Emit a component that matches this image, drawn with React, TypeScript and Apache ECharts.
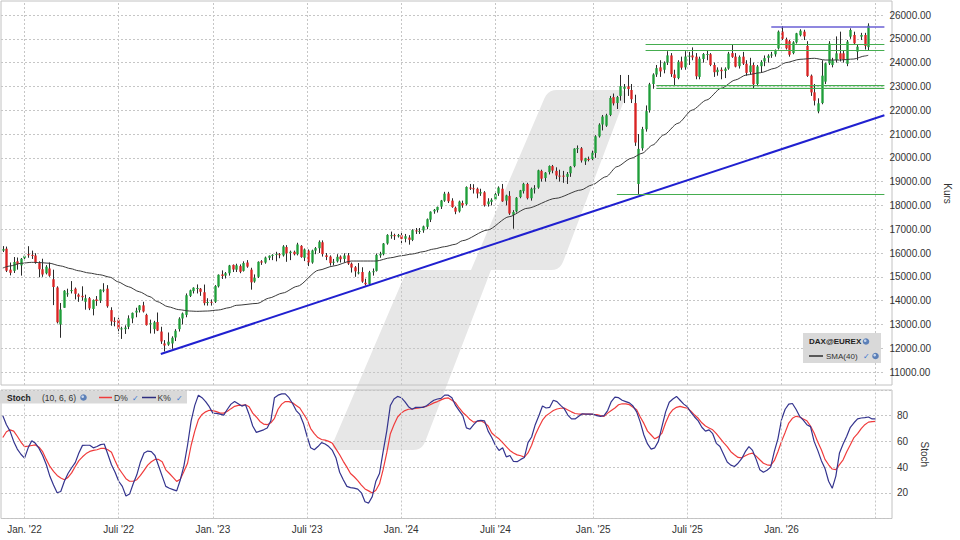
import React, { useEffect, useRef } from "react";
import * as echarts from "echarts";

// ---------------- data (weekly, week 0 = 2021-11-15) ----------------
const startDate = "2021-11-15";
const totalWeeks = 246; // 242 candles + 4 empty weeks to the right edge

const opens = [
16100,16180,15300,15250,15650,15480,15780,15950,15920,15900,15580,15320,15150,15350,14900,14550,13000,13700,14300,14400,
14500,14250,14200,13950,14100,13650,14050,14000,14430,14500,13600,13150,13200,12800,12800,12900,13250,13500,13600,13800,
13400,13000,12800,13100,12700,12200,12150,12200,12450,12800,13250,13400,14200,14400,14500,14500,14350,13900,13950,13950,
14600,15100,15050,15150,15500,15300,15450,15250,15600,15300,14800,15000,15650,15600,15800,15900,15950,15950,15900,16250,
16000,16050,15950,16300,15800,16100,15600,16100,16200,16450,15900,15850,15600,15650,15850,15750,15900,15550,15400,15150,
15200,14750,14700,15200,15250,15900,15950,16400,16740,16750,16700,16750,16600,16650,16550,16950,16900,16950,17100,17400,
17750,17800,17950,18200,18500,18200,17900,17750,18100,18050,18750,18720,18700,18500,18550,18050,18150,18250,18500,18700,
18200,18400,17600,17750,18350,18600,18900,18300,18680,18750,19450,19150,19400,19650,19450,19250,19250,19200,19350,19650,
20380,20400,19850,19950,19950,20200,20900,21400,21350,21800,22550,22300,22600,22900,23000,22850,22300,18900,20400,21200,
22000,23100,23500,23800,23700,24000,24300,23500,23350,24050,23800,24250,24300,24250,23400,24150,24320,24350,23900,23600,
23700,23650,23750,24400,24250,23850,24250,23950,23600,23900,23100,23850,24050,24200,24300,24350,24600,25300,24980,24900,
24400,24850,25150,25300,24700,23450,22750,21950,22300,23200,23970,23900,24110,24390,24390,23950,25090,25160,24460,25090,
25160,24650];

const highs = [
16290,16270,15600,15830,15810,15790,15930,16285,16100,15990,15650,15760,15490,15600,15300,14600,13900,14440,14500,14820,
14550,14300,14600,14250,14150,14050,14190,14470,14730,14650,13720,13300,13280,12900,12960,13380,13500,13700,13810,13950,
13450,13200,13150,13500,12900,12340,12660,12500,12800,13300,13500,14300,14460,14560,14680,14530,14675,14100,14050,14650,
15100,15270,15200,15500,15520,15550,15520,15650,15700,15380,15100,15650,15700,15850,15900,15950,16050,16000,16330,16330,
16100,16100,16430,16330,16190,16150,16140,16250,16530,16530,16000,15900,15750,15950,15900,15990,16000,15600,15450,15580,
15400,14920,15250,15350,15980,16050,16420,16790,16900,16810,16800,16850,16800,16750,17000,17050,17050,17150,17450,17750,
17850,17950,18230,18570,18570,18300,17950,18200,18200,18800,18900,18890,18750,18700,18600,18300,18300,18550,18800,18900,
18450,18600,17800,18350,18650,18950,18950,18750,18850,19500,19500,19400,19680,19700,19600,19500,19450,19400,19650,20400,
20520,20450,20000,20050,20300,20950,21450,21800,21850,22600,22700,22600,23480,23100,23480,23100,22650,21000,21300,22200,
23150,23550,23900,24100,24050,24480,24400,23700,24100,24250,24480,24450,24640,24400,24250,24400,24500,24400,24000,23800,
23800,23800,24450,24770,24400,24300,24450,24100,24200,24000,23900,24100,24300,24350,24450,24550,25350,25530,25050,24950,
24900,25250,25400,25380,24900,23500,23100,22500,24100,24000,24900,24200,25100,25300,24500,24950,25440,25300,24750,25250,
25250,25650];

const lows = [
16040,15200,15060,15160,15300,15050,15720,15800,15750,15550,14980,15000,15100,15000,13810,13040,12439,13700,14160,14300,
14050,13950,14000,13620,13600,13380,13780,13900,14350,13700,12945,12920,12610,12390,12600,12800,13050,13300,13500,13500,
12950,12620,12610,12720,12180,11862,12100,11975,12300,12700,13000,13300,14150,14300,14300,14200,13800,13790,13790,13900,
14550,14910,14930,15050,15200,15200,15150,15220,15380,14460,14750,14950,15500,15550,15700,15700,15650,15780,15850,15630,
15700,15900,15900,15800,15660,15450,15550,15950,16000,15850,15700,15470,15480,15600,15600,15600,15500,15180,15000,15100,
14750,14630,14650,15050,15220,15800,15900,16350,16600,16550,16650,16400,16450,16350,16500,16800,16800,16850,17000,17300,
17650,17700,17850,18150,18100,17900,17630,17700,17900,18000,18650,18500,18300,18400,17950,17950,18000,18200,18400,18150,
18000,17600,17020,17700,18300,18500,18250,18200,18500,18700,19000,19000,19300,19350,19100,19000,18950,18900,19200,19600,
20200,19800,19700,19850,19900,20000,20850,21150,21300,21750,22200,22050,22400,22300,22600,22300,20500,18480,20300,21100,
21900,22900,23400,23400,23550,23900,23400,23050,23300,23700,23700,23900,24100,23300,23300,24000,24100,23850,23400,23450,
23300,23350,23700,24200,23800,23750,23900,23450,23500,22930,23050,23600,23850,24000,24200,24250,24550,24950,24550,24250,
24350,24800,25100,24950,23400,22600,22200,21870,22250,23100,23900,23800,24000,24050,24000,23850,25000,24750,24100,24950,
24550,24500];

const closes = [
16160,15257,15169,15623,15531,15756,15885,15948,15883,15603,15318,15100,15425,15042,14567,13094,13628,14413,14306,14446,
14284,14164,14143,14098,13674,14027,13982,14462,14460,13762,13126,13118,12813,12833,12865,13254,13484,13574,13795,13544,
12971,13050,13088,12741,12284,12114,12273,12438,12731,13243,13460,14225,14431,14541,14529,14371,13893,13941,13924,14610,
15086,15033,15150,15476,15307,15482,15210,15578,15428,14768,14957,15629,15598,15808,15882,15922,15961,15914,16275,15983,
16051,15950,16358,15830,16148,15603,16106,16204,16470,15952,15832,15574,15632,15840,15740,15893,15557,15387,15230,15187,
14798,14687,15189,15234,15919,15967,16397,16759,16751,16706,16752,16594,16704,16555,16961,16918,16927,17117,17419,17735,
17815,17937,18206,18492,18175,17930,17737,18161,18001,18773,18704,18693,18498,18557,18002,18164,18235,18475,18748,18171,
18418,17661,17722,18322,18633,18907,18302,18699,18720,19474,19121,19374,19657,19464,19255,19216,19211,19323,19626,20385,
20406,19885,19984,19906,20215,20903,21394,21732,21787,22514,22287,22551,23009,22987,22892,22461,20642,20374,21206,21961,
23087,23499,23767,23630,23997,24304,23516,23351,24033,23788,24255,24290,24218,23426,24163,24359,24363,23902,23597,23698,
23639,23739,24379,24241,23831,24240,23958,23569,23877,23091,23836,24028,24186,24288,24340,24490,25300,25000,24600,24330,
24850,25230,25340,25100,23440,22750,22400,22290,23450,23970,24800,24100,24390,24150,24110,24880,25370,24810,24670,25160,
24700,25550];

// SMA(40): [week, value]
const sma40: [number, number][] = [
[0,15370],[2,15453],[5,15566],[8,15608],[10,15600],[13,15570],[16,15460],[19,15340],[21,15256],[24,15160],[27,15087],
[30,14978],[32,14793],[35,14583],[38,14373],[41,14163],[43,13960],[46,13743],[49,13620],[52,13562],[54,13549],[57,13562],
[60,13604],[63,13701],[65,13801],[71,13884],[74,14100],[78,14320],[82,14600],[88,15280],[92,15450],[97,15663],[104,15663],
[108,15800],[111,15886],[114,15957],[117,16054],[120,16167],[123,16264],[126,16365],[128,16517],[135,16966],[141,17525],
[146,17878],[154,18297],[161,18647],[164,18857],[168,19206],[171,19626],[175,19978],[178,20188],[181,20537],[184,20958],
[188,21449],[192,22008],[196,22428],[200,22920],[204,23269],[207,23479],[211,23576],[215,23760],[218,23996],[222,24138],
[226,24181],[229,24109],[233,24109],[237,24151],[240,24277],[241,24307]];

// Stochastic (10, 6, 6), one value per week
const kPct = [
80,73,68,60,54,50,47,55,60.5,58.5,54.5,49,42,32.8,26,20,21,29,35,39.5,43.5,51,56.9,57,57,55,56,57.5,58,50,
41.8,36,29,25,17.5,19,27,34,44,51,52.5,52,49,41,33,25,23.5,22.5,21.5,30,41,57,76,88,96,94,91,87,82,81.8,
81.2,80.5,85,89,91,89.3,87.5,88.5,81,72,67,68,69,70.5,76,94,96,97,97,94,89.5,84,81,74,64,55,53.5,56,59,58,
56,53,47,36,30.2,25,24,23.6,22.9,20,13,12,17,29,35,52,68,88,93,95,94,91,87,85,86.5,86.5,86.5,87.8,90,92,
93,93.5,96,96,94,88,84,80,70.5,69.5,73,76,76.4,76,68,63,57,53,55,48,49,44.4,44.2,46,47.5,59,63.4,73,80,87.5,
86,86.5,92,91,88,85.5,80.5,77.5,77.5,79.5,81.5,81.3,81.3,81.3,80,79.5,80,84,91,94.5,94,92,91,90,87.5,83,75,65,
58,54,55,60,71.7,83,90.5,93,95,92,89,87,82.5,79,76,71,68,69,66,58.5,56,50,44,41.5,40.5,43,46.5,52,56,53,
46,38,36,37.5,40,52,62,77,85,89,89.5,85,79.5,76.5,73,71.5,60,53,45,39,29,23.5,33,51,58,64,71,74.5,77.5,78.2,
78.5,79,77.5,77.5];

const dPct = [
63,67.5,69,68,64,59.5,56,56.3,56.8,57.3,55.5,52,46,40.5,36.6,33.5,31.5,30.2,32,35.5,40.5,45,48,50.5,52.2,53,53.5,54.5,54.6,53.5,
51.5,45,39,35,31,29,29,30.2,33.5,37.5,41.5,44.2,46,46,44.2,37.9,35,32,28.9,30.5,36.5,43,57,68,77,81,83,84.2,84,83.2,
82,82,83.4,85.5,87.3,88,88,88.5,87,82,79,75.5,73.5,73,74.5,78,85,89,91,91,90,88,86,81.5,77,70,66,63,61.5,61,
60,58.5,54,49.6,44.5,40,35,32.5,29.5,26,23,21.5,19.8,22,27,38,51,66,73,79,82,84,85,85.2,85.6,86,86.7,87.3,88.5,90,
91,92.3,93.5,93.8,92,90,86,82.5,80,77,75,75.5,76,74.5,72,66.5,64,62,59,56,53,51,49.5,48.8,47.8,51,57,65,71,76.5,
80,82,84,85.2,85.8,86,84.5,83,81.7,81.3,81.3,81.3,81.3,81,80.8,80,79.5,82,84,86,88.5,89.3,89.2,88.6,86.5,84.7,79,74,
68,65,62,63.5,66.5,74.5,81,84.7,86.5,87.3,86.5,85.8,83.5,80.5,78,74.5,72,70.5,69,66,62.6,59,56,52,49.6,47.5,47.2,48.8,50.2,50.9,
48.5,45.7,43,41.8,41.3,45,52,60,67,74.3,78,79.5,79,77.5,76,72,66.5,59.5,53.5,46,41.8,38.5,38,42,45.7,52,57.4,63,66,70,
73,75,75.4,75.6];

// half-year grid weeks and their labels
const gridWeeks = [6, 32, 58, 84, 110, 136, 163, 189, 215, 241];
const gridLabels = ["Jan. '22", "Juli '22", "Jan. '23", "Juli '23", "Jan. '24", "Juli '24", "Jan. '25", "Juli '25", "Jan. '26", ""];

// drawn lines
const trendLine = { fromWeek: 44, fromValue: 11756, toWeek: 245.5, toValue: 21790 };
const greenLevels = [
  { fromWeek: 171, value: 18480 },
  { fromWeek: 179, value: 24770 },
  { fromWeek: 179, value: 24500 },
  { fromWeek: 182, value: 23030 },
  { fromWeek: 182, value: 22920 },
];
const topLevel = { fromWeek: 214, value: 25525 };

// ---------------- chart ----------------
const FONT = "'Liberation Sans', Arial, sans-serif";
const UP = "#1f9e3a";
const DOWN = "#d92323";
const X_MIN = -0.5;
const X_MAX = totalWeeks - 0.5;

function weekCategories(): string[] {
  const t0 = Date.parse(startDate + "T00:00:00Z");
  return Array.from({ length: totalWeeks }, (_, i) => new Date(t0 + i * 7 * 86400000).toISOString().slice(0, 10));
}

// rounds the corners of a decorative polygon (radius per vertex)
function roundCorners(pts: number[][], radii: number[], segs = 5): number[][] {
  const out: number[][] = [];
  const n = pts.length;
  for (let i = 0; i < n; i++) {
    const p = pts[i];
    const r = radii[i];
    if (!r) { out.push(p); continue; }
    const a = pts[(i - 1 + n) % n];
    const b = pts[(i + 1) % n];
    const da = Math.hypot(a[0] - p[0], a[1] - p[1]);
    const db = Math.hypot(b[0] - p[0], b[1] - p[1]);
    const A = [p[0] + ((a[0] - p[0]) / da) * r, p[1] + ((a[1] - p[1]) / da) * r];
    const B = [p[0] + ((b[0] - p[0]) / db) * r, p[1] + ((b[1] - p[1]) / db) * r];
    for (let s = 0; s <= segs; s++) {
      const t = s / segs;
      const x = (1 - t) * (1 - t) * A[0] + 2 * (1 - t) * t * p[0] + t * t * B[0];
      const y = (1 - t) * (1 - t) * A[1] + 2 * (1 - t) * t * p[1] + t * t * B[1];
      out.push([x, y]);
    }
  }
  return out;
}

function globe(cx: number, cy: number): any[] {
  return [
    { type: "circle", z: 101, shape: { cx, cy, r: 3.3 }, style: { fill: "#5c80b8" } },
    { type: "circle", z: 102, shape: { cx: cx - 0.8, cy: cy - 0.8, r: 1.3 }, style: { fill: "#c9d8ee" } },
  ];
}

function txt(x: number, y: number, text: string, size: number, bold = false, fill = "#222"): any {
  return {
    type: "text",
    z: 102,
    x,
    y,
    style: { text, font: `${bold ? "bold " : ""}${size}px ${FONT}`, fill, align: "left", verticalAlign: "middle" },
  };
}

function buildOption(): any {
  const weeks = weekCategories();
  const candles = closes.map((c, i) => [i, opens[i], c, lows[i], highs[i]]);
  const labelAt: Record<number, string> = {};
  gridWeeks.forEach((w, k) => { if (gridLabels[k]) labelAt[w] = gridLabels[k]; });
  const vGrid = gridWeeks.map((w) => ({ xAxis: w }));
  const gridLineStyle = { color: "#c6c6c6", type: [2, 2], width: 1 };

  const watermark = roundCorners(
    [[548, 90], [628, 90], [560, 270], [491, 270], [422, 450], [330, 450], [407, 270], [471, 270]],
    [9, 9, 9, 0, 9, 9, 9, 0]
  );

  return {
    animation: false,
    backgroundColor: "#ffffff",
    grid: [
      { left: 1, top: 1, width: 891, height: 384, show: true, borderColor: "#c2c2c2", borderWidth: 1, backgroundColor: "transparent" },
      { left: 1, top: 15, width: 891, height: 357 },
      { left: 1, top: 390, width: 891, height: 128.5, show: true, borderColor: "#c2c2c2", borderWidth: 1, backgroundColor: "transparent" },
    ],
    xAxis: [
      { type: "value", gridIndex: 0, min: X_MIN, max: X_MAX, show: false },
      { type: "value", gridIndex: 1, min: X_MIN, max: X_MAX, show: false },
      { type: "value", gridIndex: 2, min: X_MIN, max: X_MAX, show: false, position: "top" },
      {
        type: "category", gridIndex: 2, data: weeks, position: "bottom", boundaryGap: true,
        axisLine: { show: false }, axisTick: { show: false }, splitLine: { show: false },
        axisLabel: {
          interval: (i: number) => labelAt[i] !== undefined,
          formatter: (_v: string, i: number) => labelAt[i] || "",
          color: "#333", fontSize: 10, fontFamily: FONT, margin: 6, hideOverlap: false,
        },
      },
    ],
    yAxis: [
      { type: "value", gridIndex: 0, min: 0, max: 1, show: false },
      {
        type: "value", gridIndex: 1, min: 11000, max: 26000, interval: 1000, position: "right",
        axisLine: { show: false }, axisTick: { show: false },
        splitLine: { show: true, lineStyle: gridLineStyle },
        axisLabel: { formatter: (v: number) => v.toFixed(2), color: "#333", fontSize: 10, fontFamily: FONT, margin: 5 },
        name: "Kurs", nameLocation: "middle", nameRotate: -90, nameGap: 52,
        nameTextStyle: { color: "#333", fontSize: 10, fontFamily: FONT },
      },
      {
        type: "value", gridIndex: 2, min: 0, max: 100, interval: 20, position: "right",
        axisLine: { show: false }, axisTick: { show: false },
        splitLine: { show: true, lineStyle: gridLineStyle },
        axisLabel: { formatter: (v: number) => (v === 0 || v === 100 ? "" : String(v)), color: "#333", fontSize: 10, fontFamily: FONT, margin: 5 },
        name: "Stoch", nameLocation: "middle", nameRotate: -90, nameGap: 20,
        nameTextStyle: { color: "#333", fontSize: 10, fontFamily: FONT },
      },
    ],
    series: [
      {
        name: "vgrid-top", type: "line", xAxisIndex: 0, yAxisIndex: 0, data: [[0, 0.5]], symbol: "none",
        lineStyle: { opacity: 0 }, silent: true, z: 1,
        markLine: { silent: true, symbol: ["none", "none"], label: { show: false }, emphasis: { disabled: true }, lineStyle: gridLineStyle, data: vGrid },
      },
      {
        name: "DAX@EUREX", type: "custom", xAxisIndex: 1, yAxisIndex: 1, z: 3,
        data: candles, encode: { x: 0, y: [1, 2, 3, 4] },
        renderItem: (_p: any, api: any) => {
          const x = api.value(0);
          const o = api.value(1), c = api.value(2), l = api.value(3), h = api.value(4);
          const pH = api.coord([x, h]);
          const pL = api.coord([x, l]);
          const pO = api.coord([x, o]);
          const pC = api.coord([x, c]);
          const w = api.size([1, 0])[0] * 0.66;
          const cx = Math.round(pH[0]) + 0.5;
          const top = Math.min(pO[1], pC[1]);
          const hh = Math.max(1, Math.abs(pO[1] - pC[1]));
          return {
            type: "group",
            children: [
              { type: "line", shape: { x1: cx, y1: pH[1], x2: cx, y2: pL[1] }, style: { stroke: "#2a2a2a", lineWidth: 1 } },
              { type: "rect", shape: { x: cx - w / 2, y: top, width: w, height: hh }, style: { fill: c >= o ? UP : DOWN } },
            ],
          };
        },
      },
      {
        name: "SMA(40)", type: "line", xAxisIndex: 1, yAxisIndex: 1, z: 4,
        data: sma40, symbol: "none", smooth: 0.25, smoothMonotone: "x",
        lineStyle: { color: "#3a3a3a", width: 1 },
        markLine: {
          silent: true, symbol: ["none", "none"], label: { show: false }, emphasis: { disabled: true },
          data: [
            [{ coord: [trendLine.fromWeek, trendLine.fromValue], lineStyle: { color: "#2020d0", width: 2, type: "solid" } }, { coord: [trendLine.toWeek, trendLine.toValue] }],
            ...greenLevels.map((g) => [{ coord: [g.fromWeek, g.value], lineStyle: { color: "#45ad4f", width: 1, type: "solid" } }, { coord: [X_MAX, g.value] }]),
            [{ coord: [topLevel.fromWeek, topLevel.value], lineStyle: { color: "#6a5fd4", width: 1.5, type: "solid" } }, { coord: [X_MAX, topLevel.value] }],
          ],
        },
        markArea: {
          silent: true, itemStyle: { color: "rgba(80,180,90,0.18)" },
          data: [[{ coord: [greenLevels[3].fromWeek, greenLevels[3].value] }, { coord: [X_MAX, greenLevels[4].value] }]],
        },
      },
      {
        name: "D%", type: "line", xAxisIndex: 2, yAxisIndex: 2, z: 3,
        data: dPct.map((v, i) => [i, v]), symbol: "none",
        lineStyle: { color: "#f03c3c", width: 1.2 },
        markLine: { silent: true, symbol: ["none", "none"], label: { show: false }, emphasis: { disabled: true }, lineStyle: gridLineStyle, data: vGrid },
      },
      {
        name: "K%", type: "line", xAxisIndex: 2, yAxisIndex: 2, z: 4,
        data: kPct.map((v, i) => [i, v]), symbol: "none",
        lineStyle: { color: "#34348e", width: 1.2 },
      },
    ],
    graphic: [
      { type: "polygon", z: -10, silent: true, shape: { points: watermark }, style: { fill: "#e7e7e7" } },
      // price legend
      { type: "rect", z: 100, shape: { x: 803, y: 333, width: 78, height: 30 }, style: { fill: "#d9d9d9" } },
      txt(809, 341.5, "DAX@EUREX", 8, true),
      ...globe(866, 341.5),
      { type: "line", z: 101, shape: { x1: 809, y1: 356, x2: 823, y2: 356 }, style: { stroke: "#111", lineWidth: 1.3 } },
      txt(826, 356, "SMA(40)", 8, false, "#333"),
      txt(862.5, 356.5, "✓", 8, false, "#3a78d0"),
      ...globe(875.5, 356),
      // stoch legend
      { type: "rect", z: 100, shape: { x: 0, y: 391, width: 187, height: 12.5 }, style: { fill: "#d9d9d9" } },
      txt(7, 397.5, "Stoch", 8.5, true),
      txt(42, 397.5, "(10, 6, 6)", 8.5, false, "#333"),
      ...globe(83.5, 397.5),
      { type: "line", z: 101, shape: { x1: 99, y1: 397.5, x2: 112, y2: 397.5 }, style: { stroke: "#f03c3c", lineWidth: 1.5 } },
      txt(114, 397.5, "D%", 8.5, false, "#333"),
      txt(132, 398, "✓", 8, false, "#3a78d0"),
      { type: "line", z: 101, shape: { x1: 142, y1: 397.5, x2: 156, y2: 397.5 }, style: { stroke: "#2d2d80", lineWidth: 1.5 } },
      txt(157.5, 397.5, "K%", 8.5, false, "#333"),
      txt(175.5, 398, "✓", 8, false, "#3a78d0"),
    ],
  };
}

export default function App() {
  const ref = useRef<HTMLDivElement>(null);
  useEffect(() => {
    if (!ref.current) return;
    const chart = echarts.init(ref.current, undefined, { renderer: "svg" });
    chart.setOption(buildOption());
    return () => chart.dispose();
  }, []);
  return <div ref={ref} style={{ position: "fixed", left: 0, top: 0, width: 960, height: 540, background: "#fff" }} />;
}
